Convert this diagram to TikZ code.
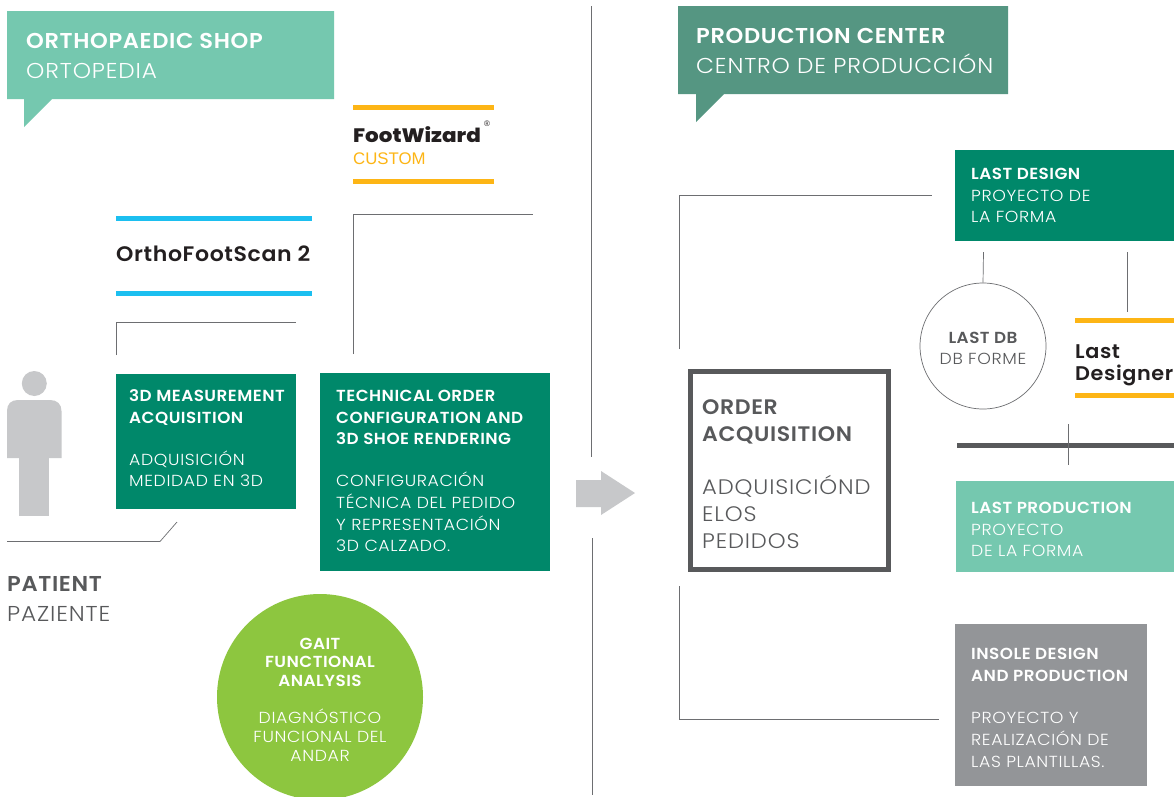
\documentclass[tikz,border=0pt]{standalone}
\usepackage{fontspec}
\setmainfont{Poppins Light}[FakeStretch=1.08,LetterSpace=4]
\newfontfamily\fb{Poppins SemiBold}[FakeStretch=1.05,LetterSpace=3]
\newfontfamily\fbrand{Poppins SemiBold}[FakeStretch=1.05,LetterSpace=3]
\newfontfamily\fwiz{Poppins ExtraBold}[FakeStretch=1.1]
\newfontfamily\farial{Liberation Sans}
\definecolor{mint}{HTML}{75C8AF}
\definecolor{dkgreen}{HTML}{00886A}
\definecolor{teal}{HTML}{559682}
\definecolor{amber}{HTML}{FDB515}
\definecolor{cyanb}{HTML}{1CBFF0}
\definecolor{lime}{HTML}{8DC63F}
\definecolor{figgrey}{HTML}{C7C8CA}
\definecolor{boxgrey}{HTML}{939598}
\definecolor{ink}{HTML}{58595B}
\definecolor{blk}{HTML}{231F20}
\definecolor{linegrey}{HTML}{6D6E71}
\tikzset{
 txt/.style={inner sep=0,anchor=north west,align=left,text=white},
 wire/.style={draw=linegrey,line width=0.7pt},
 bar/.style={line width=5pt},
 hd/.style={txt,font=\fontsize{21.5}{30}\selectfont},
 sm/.style={txt,font=\fontsize{16}{21.7}\selectfont},
}
\begin{document}
\begin{tikzpicture}[x=1pt,y=-1pt]
\useasboundingbox (0,0) rectangle (1174,796);
\fill[white] (0,0) rectangle (1174,796);
% callouts
\path[fill=mint] (7,11) -- (334,11) -- (334,99) -- (52,99) -- (24,127) -- (24,99) -- (7,99) -- cycle;
\node[hd] (shop) at (26,33) {{\fb ORTHOPAEDIC SHOP}\\ORTOPEDIA};
\path[fill=teal] (678,6) -- (1008,6) -- (1008,94) -- (724,94) -- (696,122) -- (696,94) -- (678,94) -- cycle;
\node[hd] (center) at (696,28) {{\fb PRODUCTION CENTER}\\CENTRO DE PRODUCCIÓN};
% FootWizard
\coordinate (fw1) at (353,107.5); \coordinate (fw1e) at (494,107.5);
\coordinate (fw2) at (353,181.5); \coordinate (fw2e) at (494,181.5);
\draw[bar,amber] (fw1) -- (fw1e); \draw[bar,amber] (fw2) -- (fw2e);
\node[txt,text=blk,font=\fontsize{19.5}{20}\fwiz] (fw) at (353,126) {FootWizard};
\node[txt,text=blk,font=\fontsize{8}{9}\farial] (reg) at (484,121) {®};
\node[txt,text=amber,font=\fontsize{16.8}{18}\farial] (custom) at (353,153) {CUSTOM};
% OrthoFootScan
\coordinate (ofs1) at (116,218.5); \coordinate (ofs1e) at (312,218.5);
\coordinate (ofs2) at (116,293.5); \coordinate (ofs2e) at (312,293.5);
\draw[bar,cyanb] (ofs1) -- (ofs1e); \draw[bar,cyanb] (ofs2) -- (ofs2e);
\node[txt,text=blk,font=\fontsize{21}{24}\fbrand] (ofs) at (116,246) {OrthoFootScan 2};
% brackets
\coordinate (a1) at (116.5,355); \coordinate (a2) at (116.5,322); \coordinate (a3) at (296,322);
\draw[wire] (a1) -- (a2) -- (a3);
\coordinate (b1) at (353.5,354); \coordinate (b2) at (353.5,214); \coordinate (b3) at (533,214);
\draw[wire] (b1) -- (b2) -- (b3);
\coordinate (c1) at (7,541.5); \coordinate (c2) at (160,541.5); \coordinate (c3) at (177,522);
\draw[wire] (c1) -- (c2) -- (c3);
% person
\node[circle,fill=figgrey,minimum size=25pt,inner sep=0] (head) at (34.3,383.5) {};
\path[fill=figgrey] (7,458) -- (7,411) .. controls (7,404) and (11,400) .. (18,400) -- (50,400) .. controls (57,400) and (61.5,404) .. (61.5,411) -- (61.5,458) -- cycle;
\fill[figgrey] (19,458) rectangle (49,516);
\node[hd,text=ink] (patient) at (7,576) {{\fb PATIENT}\\PAZIENTE};
% boxes
\fill[dkgreen] (116,374) rectangle (296,509);
\node[sm] (m3d) at (129,389.5) {{\fb 3D MEASUREMENT}\\{\fb ACQUISITION}\\[20.2pt]ADQUISICIÓN\\MEDIDAD EN 3D};
\fill[dkgreen] (320,373) rectangle (550,571);
\node[sm] (tech) at (336,390) {{\fb TECHNICAL ORDER}\\{\fb CONFIGURATION AND}\\{\fb 3D SHOE RENDERING}\\[20.2pt]CONFIGURACIÓN\\TÉCNICA DEL PEDIDO\\Y REPRESENTACIÓN\\3D CALZADO.};
% gait
\node[circle,fill=lime,minimum size=206pt,inner sep=0] (gait) at (320,697) {};
\node[txt,anchor=north,align=center,font=\fontsize{16}{18.7}\selectfont] (gaitt) at (320,637.5) {{\fb GAIT}\\{\fb FUNCTIONAL}\\{\fb ANALYSIS}\\[18.7pt]DIAGNÓSTICO\\FUNCIONAL DEL\\ANDAR};
% divider
\coordinate (d1) at (591.5,6); \coordinate (d2) at (591.5,457);
\coordinate (d3) at (592,538); \coordinate (d4) at (592,795);
\draw[wire] (d1) -- (d2); \draw[wire] (d3) -- (d4);
% arrow
\path[fill=figgrey] (576,480) -- (601,480) -- (601,471) -- (635,493) -- (601,515) -- (601,507) -- (576,507) -- cycle;
% order
\draw[draw=ink,line width=5.3pt] (690.7,371.7) rectangle (888.3,569.5);
\node[txt,text=ink,font=\fontsize{21}{27}\selectfont] (order) at (702,399) {{\fb ORDER}\\{\fb ACQUISITION}\\[26pt]ADQUISICIÓND\\ELOS\\PEDIDOS};
% right brackets
\coordinate (e1) at (679.5,349); \coordinate (e2) at (679.5,195.5); \coordinate (e3) at (932,195.5);
\draw[wire] (e1) -- (e2) -- (e3);
\coordinate (f1) at (679.5,586); \coordinate (f2) at (679.5,719.5); \coordinate (f3) at (939,719.5);
\draw[wire] (f1) -- (f2) -- (f3);
% last design
\fill[dkgreen] (955,150) rectangle (1174,241);
\node[sm] (ld) at (971,168) {{\fb LAST DESIGN}\\PROYECTO DE\\LA FORMA};
\coordinate (g1) at (983.5,252); \coordinate (g2) at (1127.5,252); \coordinate (g3) at (1127.5,312);
\node[circle,draw=linegrey,line width=0.7pt,minimum size=126pt,inner sep=0] (db) at (983,346) {};
\draw[wire] (g1) -- (db.north);
\draw[wire] (g2) -- (g3);
\node[txt,anchor=north,align=center,text=ink,font=\fontsize{16}{21}\selectfont] (dbt) at (983,332) {{\fb LAST DB}\\DB FORME};
% last designer
\coordinate (h1) at (1075,320.5); \coordinate (h1e) at (1174,320.5);
\coordinate (h2) at (1075,395); \coordinate (h2e) at (1174,395);
\draw[bar,amber] (h1) -- (h1e); \draw[bar,amber] (h2) -- (h2e);
\node[txt,text=blk,font=\fontsize{19.8}{22}\fbrand] (ldn) at (1075,344.5) {Last\\Designer};
% thick bar
\coordinate (i1) at (957,445); \coordinate (i2) at (1174,445);
\draw[draw=ink,line width=5pt] (i1) -- (i2);
\coordinate (j1) at (1068.5,424); \coordinate (j2) at (1068.5,465);
\draw[wire] (j1) -- (j2);
% last production
\fill[mint] (956,481) rectangle (1174,572);
\node[sm] (lp) at (971,502) {{\fb LAST PRODUCTION}\\PROYECTO\\DE LA FORMA};
% insole
\fill[boxgrey] (955,624) rectangle (1147,786);
\node[sm] (ins) at (971,648) {{\fb INSOLE DESIGN}\\{\fb AND PRODUCTION}\\[20.7pt]PROYECTO Y\\REALIZACIÓN DE\\LAS PLANTILLAS.};
\end{tikzpicture}
\end{document}
